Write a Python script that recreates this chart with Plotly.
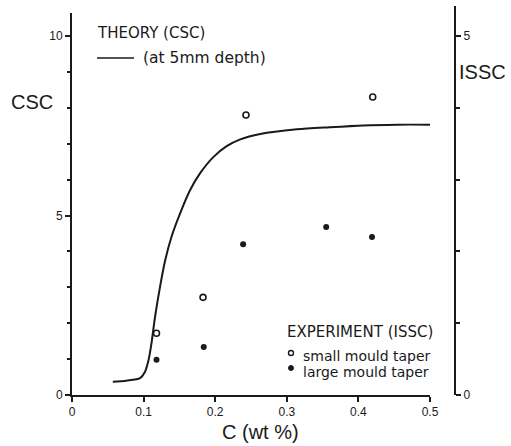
import plotly.graph_objects as go

# ---- data ----
theory_c = [0.057, 0.076, 0.095, 0.102, 0.107, 0.111, 0.116, 0.123, 0.130, 0.139, 0.151, 0.165,
            0.179, 0.197, 0.216, 0.235, 0.263, 0.314, 0.360, 0.407, 0.454, 0.5]
theory_csc = [0.37, 0.40, 0.47, 0.65, 0.98, 1.44, 2.18, 3.02, 3.74, 4.41, 5.06, 5.71,
              6.18, 6.62, 6.93, 7.12, 7.27, 7.40, 7.46, 7.51, 7.53, 7.53]

small_c = [0.118, 0.183, 0.243, 0.42]
small_issc = [0.86, 1.36, 3.9, 4.15]

large_c = [0.118, 0.184, 0.239, 0.355, 0.419]
large_issc = [0.49, 0.67, 2.1, 2.34, 2.2]

x_ticks = [0, 0.1, 0.2, 0.3, 0.4, 0.5]
x_ticktext = ["0", "0.1", "0.2", "0.3", "0.4", "0.5"]
csc_ticks = [0, 5, 10]
issc_ticks = [0, 5]

# ---- layout geometry (pixels) ----
W, H = 511, 446
L, R, T, B = 72, 56, 13, 51
PW, PH = W - L - R, H - T - B
FONT = "DejaVu Sans, Liberation Sans, Arial"
TFONT = "Liberation Sans, Arial"
INK = "#1a1a1a"


def px(x):
    return (x - L) / PW


def py(y):
    return (H - B - y) / PH


fig = go.Figure()
fig.add_trace(go.Scatter(x=theory_c, y=theory_csc, mode="lines",
                         line=dict(color=INK, width=2, shape="spline", smoothing=0.8),
                         showlegend=False, yaxis="y"))
fig.add_trace(go.Scatter(x=small_c, y=small_issc, mode="markers",
                         marker=dict(symbol="circle-open", size=6, color=INK, line=dict(width=1.6)),
                         showlegend=False, yaxis="y2", cliponaxis=False))
fig.add_trace(go.Scatter(x=large_c, y=large_issc, mode="markers",
                         marker=dict(symbol="circle", size=6, color=INK),
                         showlegend=False, yaxis="y2", cliponaxis=False))

x_end = 430
fig.update_layout(
    width=W, height=H,
    margin=dict(l=L, r=R, t=T, b=B),
    paper_bgcolor="white", plot_bgcolor="white",
    font=dict(family=TFONT, color=INK, size=12),
    xaxis=dict(domain=[0, (x_end - L) / PW], range=[0, 0.5], showline=True, linecolor=INK, linewidth=2,
               ticks="outside", ticklen=5, tickwidth=1.5, tickcolor=INK, automargin=False,
               tickvals=x_ticks, ticktext=x_ticktext, showgrid=False, zeroline=False,
               tickfont=dict(size=12, family=TFONT)),
    yaxis=dict(range=[0, (H - B - T) / 35.9], showline=True, linecolor=INK, linewidth=2,
               ticks="outside", ticklen=5, tickwidth=1.5, tickcolor=INK, automargin=False,
               tickvals=csc_ticks, showgrid=False, zeroline=False, tickfont=dict(size=12, family=TFONT),
               minor=dict(dtick=1, ticks="outside", ticklen=3, tickcolor=INK, showgrid=False)),
    yaxis2=dict(range=[0, (H - B - T) / 35.9 / 2], overlaying="y", side="right", anchor="free", position=1,
                showline=True, linecolor=INK, linewidth=2, automargin=False,
                ticks="outside", ticklen=5, tickwidth=1.5, tickcolor=INK,
                tickvals=issc_ticks, showgrid=False, zeroline=False, tickfont=dict(size=12, family=TFONT),
                minor=dict(dtick=1, ticks="outside", ticklen=4, tickcolor=INK, showgrid=False)),
)

ann = []


def text(t, x, y, size, xanchor="left", family=FONT):
    ann.append(dict(text=t, x=px(x), y=py(y), xref="paper", yref="paper", showarrow=False,
                    xanchor=xanchor, yanchor="middle", font=dict(size=size, family=family, color=INK)))


text("CSC", 32, 102, 20, "center", TFONT)
text("ISSC", 482, 72, 20, "center", TFONT)
text("C (wt %)", 260, 432, 20, "center", TFONT)
text("THEORY (CSC)", 95, 33, 15)
text("(at 5mm depth)", 141, 58, 15.5)
text("EXPERIMENT (ISSC)", 285, 332, 15)
text("small mould taper", 301, 356, 14)
text("large mould taper", 301, 372, 14)
fig.update_layout(annotations=ann)

shapes = [
    dict(type="line", xref="paper", yref="paper", x0=px(97), x1=px(134), y0=py(58), y1=py(58),
         line=dict(color=INK, width=1.6)),
    # right axis extends slightly above the left one
    dict(type="line", xref="paper", yref="paper", x0=1, x1=1, y0=1, y1=py(6),
         line=dict(color=INK, width=2)),
    dict(type="circle", xref="paper", yref="paper", xsizemode="pixel", ysizemode="pixel",
         xanchor=px(291), yanchor=py(353), x0=-2.5, x1=2.5, y0=-2.5, y1=2.5,
         line=dict(color=INK, width=1.4)),
    dict(type="circle", xref="paper", yref="paper", xsizemode="pixel", ysizemode="pixel",
         xanchor=px(291), yanchor=py(368), x0=-2.5, x1=2.5, y0=-2.5, y1=2.5,
         line=dict(color=INK, width=1), fillcolor=INK),
]
fig.update_layout(shapes=shapes)

fig.write_html("out.html", config={"displayModeBar": False},
               post_script="document.body.style.margin='0';")
